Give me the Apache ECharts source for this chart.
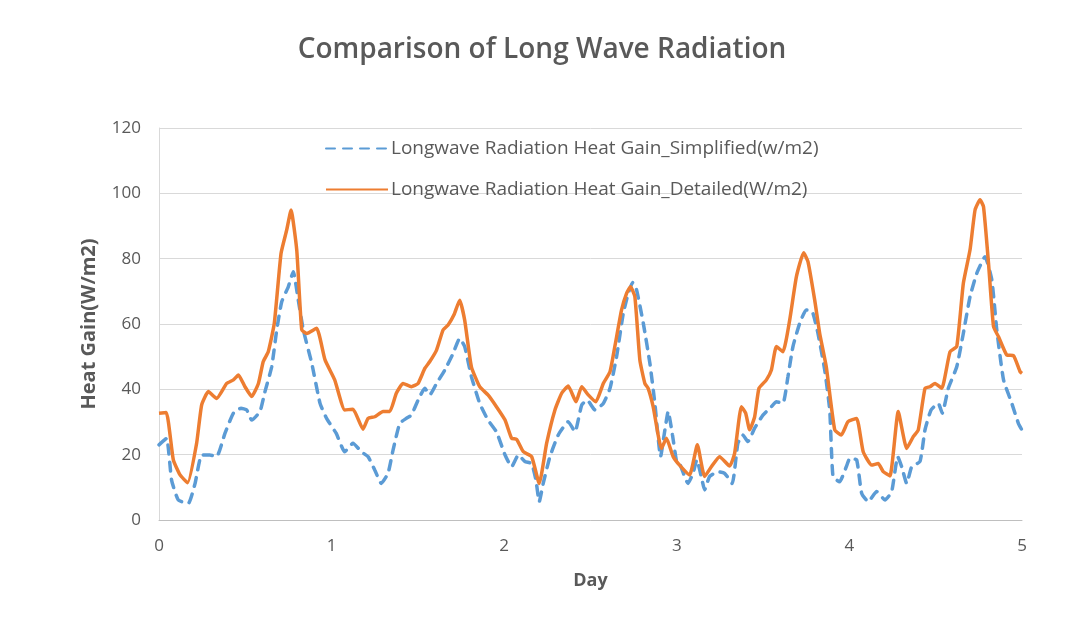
<!DOCTYPE html>
<html>
<head>
<meta charset="utf-8">
<script src="https://cdn.jsdelivr.net/npm/echarts@6/dist/echarts.min.js"></script>
<style>
html,body{margin:0;padding:0;background:#fff;}
#chart{width:1084px;height:643px;}
</style>
</head>
<body>
<div id="chart"></div>
<script>
const titleText = "Comparison of Long Wave Radiation";
const xAxisName = "Day";
const yAxisName = "Heat Gain(W/m2)";
const seriesNames = ["Longwave Radiation Heat Gain_Simplified(w/m2)", "Longwave Radiation Heat Gain_Detailed(W/m2)"];

const simplifiedDays = [0,0.044,0.073,0.112,0.17,0.209,0.247,0.295,0.334,0.382,0.431,0.475,0.508,0.537,0.585,0.614,0.653,0.682,0.711,0.749,0.778,0.807,0.836,0.885,0.933,0.971,1.027,1.076,1.124,1.172,1.211,1.25,1.288,1.327,1.356,1.395,1.433,1.462,1.501,1.54,1.569,1.608,1.656,1.704,1.742,1.771,1.81,1.858,1.906,1.955,2.005,2.043,2.082,2.12,2.159,2.184,2.203,2.226,2.265,2.313,2.371,2.41,2.449,2.481,2.526,2.574,2.613,2.651,2.69,2.719,2.744,2.767,2.806,2.844,2.873,2.906,2.931,2.95,2.975,3.0,3.016,3.065,3.094,3.116,3.142,3.161,3.19,3.238,3.277,3.321,3.354,3.383,3.412,3.451,3.499,3.548,3.577,3.615,3.644,3.673,3.712,3.75,3.785,3.818,3.857,3.886,3.905,3.943,3.982,4.003,4.042,4.071,4.109,4.158,4.206,4.245,4.28,4.303,4.332,4.361,4.409,4.438,4.473,4.515,4.538,4.573,4.622,4.66,4.699,4.738,4.786,4.825,4.854,4.893,4.941,4.979,5.0];
const simplifiedValues = [23,25,12.2,6.1,5.1,11.2,19.9,19.9,19.4,26.5,32.7,34.2,33.7,30.6,33.2,39.3,46.9,58.2,66.8,71.4,76,67.3,58.2,48,35.7,31.1,26.5,20.9,23.5,20.9,19.4,15.3,11.2,14.3,21.4,29.6,31.1,32.1,36.7,40.3,38.3,41.8,45.9,51,55.6,53.1,43.9,35.7,30.6,27,19.9,16.3,19.9,17.9,17.3,12.2,5.6,11.2,19.4,26,30.1,27,35.2,36.7,33.7,35.7,40.3,50,63.3,69.4,72.7,70.4,60.2,48,35.7,19.4,27.6,33.2,26,17.5,17.3,11.2,14.3,18.4,13.3,9.2,13.3,14.8,14.3,11.2,23.5,26,24,28.1,32.1,34.7,36.2,35.7,43.9,53.1,60.2,64.3,63.8,57.1,45.9,33.7,13.3,11.7,16.3,18.9,18.4,8.2,5.6,8.7,6.1,8.7,19.4,16.3,11.2,16.3,17.9,27.6,33.7,35.7,32.7,40.3,46.9,57.1,68.4,75.5,80.6,73.5,58.2,42.9,35.7,29.6,27.5];

const detailedDays = [0,0.042,0.083,0.122,0.166,0.218,0.247,0.286,0.334,0.392,0.431,0.46,0.498,0.537,0.576,0.604,0.633,0.668,0.707,0.74,0.765,0.798,0.827,0.856,0.913,0.962,1.018,1.076,1.124,1.182,1.211,1.25,1.298,1.337,1.375,1.414,1.462,1.501,1.54,1.569,1.608,1.646,1.675,1.709,1.742,1.771,1.81,1.858,1.906,1.955,2.005,2.043,2.072,2.111,2.159,2.203,2.246,2.294,2.333,2.371,2.416,2.449,2.487,2.531,2.574,2.613,2.641,2.68,2.709,2.732,2.757,2.786,2.815,2.834,2.863,2.911,2.94,2.979,3.016,3.074,3.119,3.161,3.2,3.248,3.306,3.335,3.374,3.399,3.422,3.451,3.476,3.519,3.548,3.577,3.615,3.654,3.693,3.735,3.76,3.799,3.828,3.866,3.915,3.953,3.992,4.042,4.08,4.129,4.167,4.196,4.235,4.283,4.332,4.37,4.399,4.438,4.467,4.496,4.535,4.583,4.622,4.66,4.699,4.728,4.757,4.777,4.806,4.835,4.864,4.912,4.951,4.989,5.0];
const detailedValues = [32.7,32.9,18.4,13.8,11.4,23.5,35.2,39.3,37.2,41.8,42.9,44.4,40.8,37.8,41.8,48.5,51.5,60.2,81.6,88.8,94.9,82.7,58.2,57.1,58.7,49,42.9,33.7,33.9,27.8,31.1,31.6,33.2,33.2,38.8,41.8,40.8,41.8,46.4,48.5,52,58.2,59.7,62.8,67.3,61.2,46.9,40.8,38.3,34.7,30.6,25,24.7,20.9,19.4,11.2,23.5,33.7,38.8,41,36.2,40.8,38.3,36.2,41.8,45.4,53.1,64.3,69.4,71.4,68.4,49,41.8,40.3,34.7,21.9,25,19.4,16.8,13.8,23,13.3,16.3,19.4,16.5,20.4,34.7,32.7,27.6,31.6,40.3,42.9,45.9,53.1,51.5,61.2,74.5,81.8,79.1,67.3,57.1,46.9,27.6,26,30.1,31.1,20.9,16.8,17.3,14.8,13.5,33.2,21.9,25.5,27.6,40.3,40.8,41.8,40.3,51.5,53.1,72.4,82.7,94.9,98,95.9,78.6,59.2,56.1,50.5,50.3,45.4,44.9];

const xTicks = {min: 0, max: 5, interval: 1};
const yTicks = {min: 0, max: 120, interval: 20};

const pair = (xs, ys) => xs.map((x, i) => [x, ys[i]]);

const chart = echarts.init(document.getElementById('chart'), null, {renderer: 'canvas'});
const FONT = '"Open Sans", "Noto Sans", sans-serif';
chart.setOption({
  backgroundColor: '#ffffff',
  animation: false,
  title: {
    text: titleText,
    left: 'center',
    top: 31,
    textStyle: {fontFamily: FONT, fontSize: 28, fontWeight: 600, color: '#595959'}
  },
  legend: {
    orient: 'vertical',
    left: 320,
    top: 134,
    itemWidth: 62,
    itemHeight: 14,
    itemGap: 22,
    itemStyle: {opacity: 0},
    textStyle: {fontFamily: FONT, fontSize: 19, color: '#595959', padding: [0, 0, 0, -2]},
    data: seriesNames
  },
  grid: {left: 159, right: 62, top: 128, bottom: 123, containLabel: false},
  xAxis: {
    type: 'value',
    min: xTicks.min, max: xTicks.max, interval: xTicks.interval,
    name: xAxisName,
    nameLocation: 'middle',
    nameGap: 52,
    nameTextStyle: {fontFamily: FONT, fontSize: 18, fontWeight: 'bold', color: '#595959'},
    axisLine: {show: true, lineStyle: {color: '#bfbfbf', width: 1}},
    axisTick: {show: false},
    splitLine: {show: false},
    axisLabel: {fontFamily: FONT, fontSize: 17, color: '#595959', margin: 18}
  },
  yAxis: {
    type: 'value',
    min: yTicks.min, max: yTicks.max, interval: yTicks.interval,
    name: yAxisName,
    nameLocation: 'middle',
    nameGap: 60,
    nameRotate: 90,
    nameTextStyle: {fontFamily: FONT, fontSize: 20, fontWeight: 'bold', color: '#595959'},
    axisLine: {show: true, lineStyle: {color: '#d9d9d9', width: 1}},
    axisTick: {show: false},
    splitLine: {show: true, lineStyle: {color: '#d9d9d9', width: 1}},
    axisLabel: {fontFamily: FONT, fontSize: 17, color: '#595959', margin: 18}
  },
  series: [
    {
      name: seriesNames[0],
      type: 'line',
      data: pair(simplifiedDays, simplifiedValues),
      symbol: 'none',
      smooth: 0.15,
      lineStyle: {color: '#5B9BD5', width: 3.5, type: [9, 8], cap: 'round'},
      itemStyle: {color: '#5B9BD5'},
      z: 2
    },
    {
      name: seriesNames[1],
      type: 'line',
      data: pair(detailedDays, detailedValues),
      symbol: 'none',
      smooth: 0.15,
      lineStyle: {color: '#ED7D31', width: 3.5, type: 'solid'},
      itemStyle: {color: '#ED7D31'},
      z: 3
    }
  ]
});
</script>
</body>
</html>
